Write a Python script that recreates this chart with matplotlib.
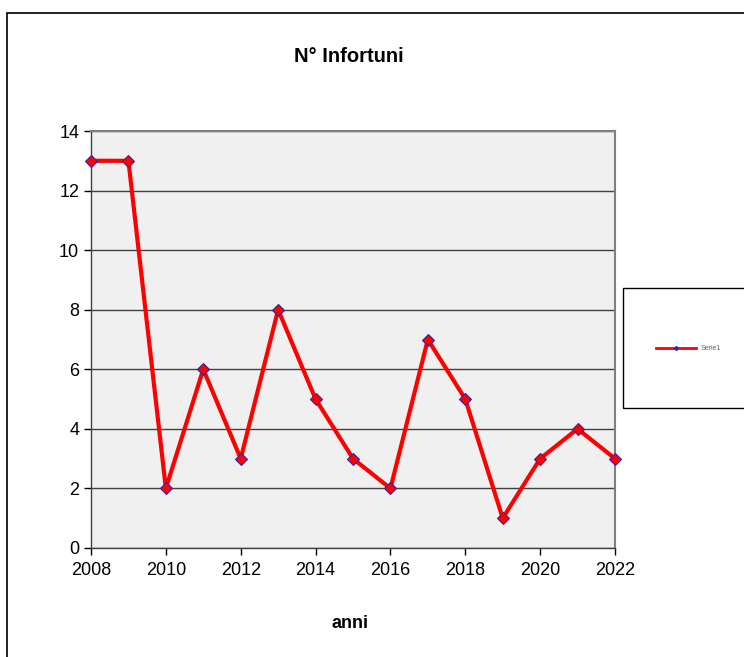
import matplotlib
matplotlib.use("Agg")
import matplotlib.pyplot as plt
from matplotlib.patches import Rectangle

plt.rcParams['font.family'] = ['Liberation Sans', 'DejaVu Sans']

# dati
anni = [2008, 2009, 2010, 2011, 2012, 2013, 2014, 2015, 2016, 2017, 2018, 2019, 2020, 2021, 2022]
infortuni = [13, 13, 2, 6, 3, 8, 5, 3, 2, 7, 5, 1, 3, 4, 3]
xticks = [2008, 2010, 2012, 2014, 2016, 2018, 2020, 2022]
yticks = [0, 2, 4, 6, 8, 10, 12, 14]

fig = plt.figure(figsize=(7.44, 6.57), dpi=100)

# cornice esterna del grafico
fig.add_artist(Rectangle((7 / 744, -0.1), 1.2, (1 - 13 / 657) + 0.1,
                         transform=fig.transFigure, fill=False,
                         edgecolor='black', linewidth=1.2))

ax = fig.add_axes([91 / 744, 1 - 548 / 657, 524 / 744, 417 / 657])
ax.set_facecolor('#f0f0f0')

ax.plot(anni, infortuni, color='red', linewidth=3, marker='D', markersize=6,
        markerfacecolor='red', markeredgecolor='#4020a0', markeredgewidth=0.8,
        label='Serie1', zorder=3, clip_on=False)

ax.set_xlim(2008, 2022)
ax.set_ylim(0, 14)
ax.set_xticks(xticks)
ax.set_yticks(yticks)
ax.yaxis.grid(True, color='#404040', linewidth=1)
ax.set_axisbelow(True)
ax.tick_params(direction='out', length=5, width=1, labelsize=13, colors='black')
ax.tick_params(axis='x', pad=5)

for s in ['top', 'right']:
    ax.spines[s].set_color('#808080')
    ax.spines[s].set_linewidth(1.5)
for s in ['left', 'bottom']:
    ax.spines[s].set_color('#404040')
    ax.spines[s].set_linewidth(1)

fig.text(349 / 744, 1 - 56 / 657, 'N° Infortuni', ha='center', va='center',
         fontsize=14.5, fontweight='bold')
fig.text(350 / 744, 1 - 623 / 657, 'anni', ha='center', va='center',
         fontsize=13, fontweight='bold')

# legenda
fig.add_artist(Rectangle((623 / 744, 1 - 408 / 657), 0.3, 120 / 657,
                         transform=fig.transFigure, facecolor='white',
                         edgecolor='black', linewidth=1))
ly = 1 - 348 / 657
fig.add_artist(plt.Line2D([656 / 744, 696 / 744], [ly, ly], transform=fig.transFigure,
                          color='red', linewidth=2))
fig.add_artist(plt.Line2D([676 / 744], [ly], transform=fig.transFigure,
                          marker='D', markersize=2, color='#4020a0', linestyle='none'))
fig.text(701 / 744, ly, 'Serie1', fontsize=5, va='center', ha='left', color='#606060')

fig.savefig('out.png', dpi=100)
